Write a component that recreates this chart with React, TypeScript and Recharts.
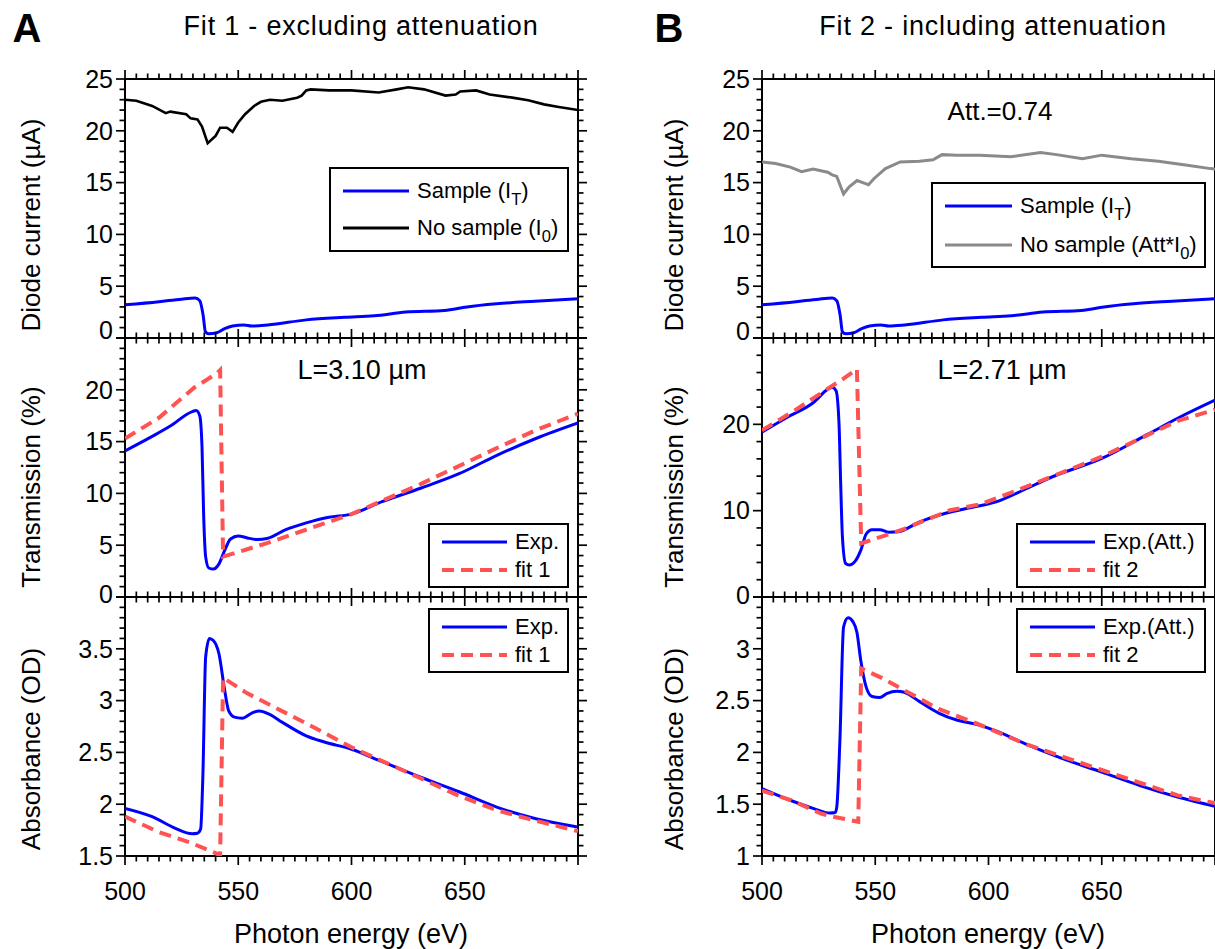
import React from "react";
import { LineChart, Line, XAxis, YAxis, ReferenceArea, Legend } from "recharts";

const FONT = '"Liberation Sans", Arial, Helvetica, sans-serif';
const BLUE = "#0000FF";
const RED = "#FF5252";
const GRAY = "#8A8A8A";

// [photon energy (eV), value]
const sampleIT: [number, number][] = [
  [500, 3.2], [515, 3.5], [525, 3.75], [531, 3.85], [533, 3.6], [534.5, 2.2],
  [535.5, 0.6], [537, 0.4], [540.5, 0.5], [544, 0.9], [547.5, 1.15], [552.5, 1.25],
  [556, 1.15], [563, 1.25], [580, 1.75], [597, 2.0], [610, 2.15], [624, 2.5],
  [641, 2.65], [651, 3.0], [664, 3.3], [681, 3.55], [700, 3.8],
];
const noSampleI0: [number, number][] = [
  [500, 23.0], [505, 22.9], [512, 22.4], [518, 21.7], [520, 21.85], [527, 21.6],
  [529, 21.2], [532, 21.1], [534, 20.4], [536.5, 18.8], [540, 19.5], [542, 20.3],
  [545, 20.3], [547.5, 19.9], [550, 20.8], [553, 21.6], [557, 22.4], [560, 22.8],
  [564, 23.0], [569.5, 22.9], [576, 23.2], [578, 23.4], [580, 23.9], [582, 24.0],
  [590, 23.9], [600, 23.9], [612, 23.7], [620, 24.0], [625, 24.2], [632, 24.0],
  [641.5, 23.4], [646, 23.5], [648, 23.8], [655, 23.9], [661, 23.5], [671, 23.2],
  [678, 22.95], [685, 22.55], [691.5, 22.3], [700, 22.0],
];
const noSampleAttI0: [number, number][] = [
  [500, 17.0], [506, 16.85], [512.5, 16.5], [517.5, 16.05], [522.5, 16.3], [529, 16.0],
  [531, 15.75], [533, 15.6], [536, 13.9], [538.5, 14.6], [542, 15.2], [544.5, 15.0],
  [547, 14.8], [549.5, 15.4], [554.5, 16.35], [561, 17.0], [569.5, 17.05], [575.5, 17.2],
  [579.5, 17.7], [586, 17.65], [596, 17.65], [610, 17.5], [623, 17.9], [630, 17.7],
  [641.5, 17.3], [650, 17.65], [663, 17.3], [675, 17.05], [687, 16.7], [698, 16.35],
  [700, 16.3],
];
const transExp1: [number, number][] = [
  [500, 14.1], [512, 15.5], [520, 16.5], [529.7, 17.9], [531.4, 18.0], [533, 17.5],
  [534, 14.5], [534.7, 8.1], [535.6, 3.9], [537, 2.8], [539, 2.7], [541.5, 3.2],
  [544, 4.5], [546.6, 5.6], [550, 5.9], [554, 5.7], [558.5, 5.55], [562.7, 5.65],
  [571, 6.5], [580, 7.15], [590, 7.7], [600, 8.0], [613.5, 9.2], [630.5, 10.5],
  [647.5, 11.9], [664.4, 13.7], [681.4, 15.3], [700, 16.8],
];
const transFit1: [number, number][] = [
  [500, 15.3], [515, 17.3], [530.5, 20.2], [540.7, 21.6], [542, 21.9], [543.3, 3.9],
  [562.7, 5.2], [588, 7.1], [600, 8.0], [630.5, 10.9], [664.4, 14.4], [681.4, 16.1],
  [700, 17.7],
];
const absExp1: [number, number][] = [
  [500, 1.96], [512, 1.88], [522, 1.77], [529.7, 1.715], [532, 1.72], [533.4, 1.76],
  [534.4, 2.29], [535.6, 3.42], [537.3, 3.6], [539, 3.58], [541.5, 3.45], [544, 3.1],
  [545.8, 2.9], [548.3, 2.84], [551.7, 2.83], [556, 2.88], [559.3, 2.9], [563.6, 2.87],
  [569.5, 2.79], [580, 2.66], [588, 2.6], [600, 2.53], [613.5, 2.41], [630.5, 2.26],
  [647.5, 2.12], [664.4, 1.97], [681.4, 1.86], [700, 1.78],
];
const absFit1: [number, number][] = [
  [500, 1.88], [515, 1.73], [528.8, 1.63], [539.8, 1.53], [542, 1.505], [543.3, 3.22],
  [554, 3.07], [580, 2.78], [600, 2.55], [630.5, 2.25], [647.5, 2.08], [664.4, 1.94],
  [681.4, 1.84], [700, 1.74],
];
const transExp2: [number, number][] = [
  [500, 19.1], [511, 20.8], [522.6, 22.5], [529.3, 24.1], [531, 24.3], [532.7, 23.9],
  [534, 20.1], [534.7, 13.5], [535.5, 7.0], [536.9, 3.9], [538.5, 3.7], [541, 4.1],
  [543.6, 5.4], [546, 7.3], [548.6, 7.8], [552, 7.8], [556, 7.5], [560, 7.55],
  [569.6, 8.7], [581, 9.7], [593, 10.4], [603, 11.0], [613, 12.1], [628, 13.9],
  [650, 16.05], [670, 18.8], [683.5, 20.7], [700, 22.8],
];
const transFit2: [number, number][] = [
  [500, 19.3], [512.6, 21.3], [526, 23.6], [536, 25.3], [541.9, 26.4], [543.8, 6.2],
  [552.8, 7.0], [562.9, 7.9], [583, 10.05], [596.4, 10.75], [613, 12.4], [650, 16.25],
  [683.5, 20.4], [700, 21.7],
];
const absExp2: [number, number][] = [
  [500, 1.65], [511, 1.55], [522.6, 1.46], [530, 1.415], [532.3, 1.42], [533, 1.47],
  [534.4, 2.12], [536, 3.21], [538, 3.3], [540.2, 3.26], [541.9, 3.16], [543.6, 2.89],
  [546, 2.63], [548.6, 2.54], [552, 2.53], [555.3, 2.57], [559.5, 2.59], [562.8, 2.58],
  [569.6, 2.49], [578, 2.38], [586.3, 2.31], [594.7, 2.27], [603, 2.21], [616.5, 2.08],
  [631.5, 1.95], [650, 1.81], [666.8, 1.68], [683.5, 1.57], [700, 1.48],
];
const absFit2: [number, number][] = [
  [500, 1.63], [512.6, 1.54], [526, 1.41], [531, 1.38], [536, 1.36], [540.2, 1.34],
  [542.5, 1.33], [543.8, 2.81], [552.8, 2.72], [562.8, 2.6], [578, 2.42], [594.7, 2.28],
  [616.5, 2.08], [650, 1.83], [683.5, 1.585], [700, 1.51],
];

const xTickLabels = [500, 550, 600, 650];
const diodeTickLabels = [0, 5, 10, 15, 20, 25];
const trans1TickLabels = [0, 5, 10, 15, 20];
const abs1TickLabels = [1.5, 2, 2.5, 3, 3.5];
const trans2TickLabels = [0, 10, 20];
const abs2TickLabels = [1, 1.5, 2, 2.5, 3];

const range = (a: number, b: number, step: number) => {
  const out: number[] = [];
  const n = Math.round((b - a) / step);
  for (let i = 0; i <= n; i++) out.push(Math.round((a + i * step) * 1000) / 1000);
  return out;
};
const isMultiple = (v: number, step: number) =>
  Math.abs(v / step - Math.round(v / step)) < 1e-6;

type Series = {
  name: string;
  points: [number, number][];
  color: string;
  width: number;
  dash?: string;
  curve: "linear" | "monotone";
};
type LegendCfg = { x: number; y: number; w: number; h: number; rowH: number; lineW: number };
type PanelCfg = {
  left: number;
  top: number;
  yDomain: [number, number];
  yMinor: number;
  yMajor: number;
  yLabels: number[];
  zeroShift: number;
  xLabels: boolean;
  series: Series[];
  legend: LegendCfg;
  padR: number;
};

const PLOT_W = 453;
const PLOT_H = 259;
const PAD_L = 80;
const PAD_T = 20;
const TICK_FONT = 25;
const MAJOR = 9;
const MINOR = 5.5;

const formatName = (s: string) => {
  const m = s.match(/^(.*I)_(\w)(.*)$/);
  if (!m) return s;
  return (
    <>
      {m[1]}
      <sub style={{ fontSize: "0.75em", verticalAlign: "-0.4em", lineHeight: 0 }}>{m[2]}</sub>
      {m[3]}
    </>
  );
};

const Panel = ({ cfg }: { cfg: PanelCfg }) => {
  const padB = cfg.xLabels ? 62 : 20;
  const width = PAD_L + PLOT_W + cfg.padR;
  const height = PAD_T + PLOT_H + padB;
  const plotTop = PAD_T;
  const plotBottom = PAD_T + PLOT_H;
  const plotLeft = PAD_L;
  const plotRight = PAD_L + PLOT_W;
  const xTicks = range(500, 700, 5);
  const yTicks = range(cfg.yDomain[0], cfg.yDomain[1], cfg.yMinor);

  // axes are 1px thick so that recharts draws them; ticks drawn by hand on all four sides
  const XTick = (p: any) => {
    const x = p.x;
    const v = p.payload.value;
    const len = isMultiple(v, 50) ? MAJOR : MINOR;
    return (
      <g>
        <line x1={x} y1={plotBottom} x2={x} y2={plotBottom + len} stroke="#000" strokeWidth={1.7} />
        <line x1={x} y1={plotTop} x2={x} y2={plotTop - len} stroke="#000" strokeWidth={1.7} />
        {cfg.xLabels && xTickLabels.includes(v) && (
          <text x={x} y={plotBottom + 35} dy="0.35em" textAnchor="middle" fontSize={TICK_FONT} fontFamily={FONT} fill="#000">
            {v}
          </text>
        )}
      </g>
    );
  };

  const YTick = (p: any) => {
    const y = p.y;
    const v = p.payload.value;
    const len = isMultiple(v, cfg.yMajor) ? MAJOR : MINOR;
    const shift = Math.abs(v - cfg.yDomain[0]) < 1e-6 ? cfg.zeroShift : 0;
    return (
      <g>
        <line x1={plotLeft - len} y1={y} x2={plotLeft} y2={y} stroke="#000" strokeWidth={1.7} />
        <line x1={plotRight} y1={y} x2={plotRight + len} y2={y} stroke="#000" strokeWidth={1.7} />
        {cfg.yLabels.some((l) => Math.abs(l - v) < 1e-6) && (
          <text x={plotLeft - 12} y={y + shift} dy="0.35em" textAnchor="end" fontSize={TICK_FONT} fontFamily={FONT} fill="#000">
            {v}
          </text>
        )}
      </g>
    );
  };

  const lg = cfg.legend;
  const chartLeft = cfg.left - PAD_L;
  const chartTop = cfg.top - PAD_T;

  const renderLegend = (props: any) => {
    const items = [...(props.payload || [])].sort(
      (a: any, b: any) =>
        cfg.series.findIndex((s) => s.name === a.value) - cfg.series.findIndex((s) => s.name === b.value)
    );
    return (
      <div
        style={{
          width: lg.w,
          height: lg.h,
          boxSizing: "border-box",
          border: "2px solid #000",
          background: "#fff",
          display: "flex",
          flexDirection: "column",
          justifyContent: "center",
          fontFamily: FONT,
          fontSize: 22,
          color: "#000",
        }}
      >
        {items.map((it: any) => {
          const s = cfg.series.find((q) => q.name === it.value);
          return (
            <div key={it.value} style={{ height: lg.rowH, display: "flex", alignItems: "center", paddingLeft: 12 }}>
              <svg width={lg.lineW} height={8} style={{ flex: "none" }}>
                <line
                  x1={0}
                  y1={4}
                  x2={lg.lineW}
                  y2={4}
                  stroke={it.color}
                  strokeWidth={s?.dash ? 4 : 3.2}
                  strokeDasharray={s?.dash}
                />
              </svg>
              <span style={{ marginLeft: 8, lineHeight: 1, whiteSpace: "nowrap" }}>{formatName(String(it.value))}</span>
            </div>
          );
        })}
      </div>
    );
  };

  return (
    <div style={{ position: "absolute", left: chartLeft, top: chartTop }}>
      <LineChart width={width} height={height} margin={{ top: PAD_T, right: cfg.padR, bottom: padB - 1, left: PAD_L - 1 }}>
        <XAxis
          dataKey="x"
          type="number"
          domain={[500, 700]}
          allowDataOverflow
          ticks={xTicks}
          interval={0}
          height={1}
          tickSize={0}
          tickMargin={0}
          tickLine={false}
          axisLine={false}
          tick={XTick}
        />
        <YAxis
          type="number"
          domain={cfg.yDomain}
          allowDataOverflow
          ticks={yTicks}
          interval={0}
          width={1}
          tickSize={0}
          tickMargin={0}
          tickLine={false}
          axisLine={false}
          tick={YTick}
        />
        {cfg.series.map((s) => (
          <Line
            key={s.name}
            name={s.name}
            data={s.points.map(([x, y]) => ({ x, y }))}
            dataKey="y"
            type={s.curve}
            stroke={s.color}
            strokeWidth={s.width}
            strokeDasharray={s.dash}
            dot={false}
            activeDot={false}
            isAnimationActive={false}
          />
        ))}
        <ReferenceArea
          x1={500}
          x2={700}
          y1={cfg.yDomain[0]}
          y2={cfg.yDomain[1]}
          fill="none"
          fillOpacity={0}
          stroke="#000"
          strokeWidth={2}
          ifOverflow="visible"
        />
        <Legend
          layout="horizontal"
          verticalAlign="middle"
          align="center"
          wrapperStyle={{ left: lg.x - chartLeft, top: lg.y - chartTop, width: lg.w, height: lg.h }}
          content={renderLegend}
        />
      </LineChart>
    </div>
  );
};

const COL_A = 125;
const COL_B = 762;
const ROWS = [79, 338, 597];
const DASH = "12 7";

const panels: PanelCfg[] = [
  {
    left: COL_A, top: ROWS[0], yDomain: [0, 25], yMinor: 1, yMajor: 5, yLabels: diodeTickLabels,
    zeroShift: -8, xLabels: false, padR: 30,
    series: [
      { name: "Sample (I_T)", points: sampleIT, color: BLUE, width: 3, curve: "monotone" },
      { name: "No sample (I_0)", points: noSampleI0, color: "#000", width: 2.6, curve: "linear" },
    ],
    legend: { x: 329, y: 167, w: 240, h: 85, rowH: 37, lineW: 66 },
  },
  {
    left: COL_A, top: ROWS[1], yDomain: [0, 25], yMinor: 1, yMajor: 5, yLabels: trans1TickLabels,
    zeroShift: -3, xLabels: false, padR: 30,
    series: [
      { name: "Exp.", points: transExp1, color: BLUE, width: 3, curve: "monotone" },
      { name: "fit 1", points: transFit1, color: RED, width: 4, dash: DASH, curve: "linear" },
    ],
    legend: { x: 428, y: 523, w: 141, h: 65, rowH: 28, lineW: 65 },
  },
  {
    left: COL_A, top: ROWS[2], yDomain: [1.5, 4], yMinor: 0.1, yMajor: 0.5, yLabels: abs1TickLabels,
    zeroShift: 0, xLabels: true, padR: 30,
    series: [
      { name: "Exp.", points: absExp1, color: BLUE, width: 3, curve: "monotone" },
      { name: "fit 1", points: absFit1, color: RED, width: 4, dash: DASH, curve: "linear" },
    ],
    legend: { x: 428, y: 608, w: 141, h: 65, rowH: 28, lineW: 65 },
  },
  {
    left: COL_B, top: ROWS[0], yDomain: [0, 25], yMinor: 1, yMajor: 5, yLabels: diodeTickLabels,
    zeroShift: -7, xLabels: false, padR: 0,
    series: [
      { name: "Sample (I_T)", points: sampleIT, color: BLUE, width: 3, curve: "monotone" },
      { name: "No sample (Att*I_0)", points: noSampleAttI0, color: GRAY, width: 3, curve: "linear" },
    ],
    legend: { x: 931, y: 182, w: 275, h: 86, rowH: 39, lineW: 67 },
  },
  {
    left: COL_B, top: ROWS[1], yDomain: [0, 30], yMinor: 2, yMajor: 10, yLabels: trans2TickLabels,
    zeroShift: -2, xLabels: false, padR: 0,
    series: [
      { name: "Exp.(Att.)", points: transExp2, color: BLUE, width: 3, curve: "monotone" },
      { name: "fit 2", points: transFit2, color: RED, width: 4, dash: DASH, curve: "linear" },
    ],
    legend: { x: 1016, y: 523, w: 190, h: 65, rowH: 28, lineW: 65 },
  },
  {
    left: COL_B, top: ROWS[2], yDomain: [1, 3.5], yMinor: 0.1, yMajor: 0.5, yLabels: abs2TickLabels,
    zeroShift: 0, xLabels: true, padR: 0,
    series: [
      { name: "Exp.(Att.)", points: absExp2, color: BLUE, width: 3, curve: "monotone" },
      { name: "fit 2", points: absFit2, color: RED, width: 4, dash: DASH, curve: "linear" },
    ],
    legend: { x: 1016, y: 608, w: 190, h: 65, rowH: 28, lineW: 65 },
  },
];

const yTitles = [
  { text: "Diode current (µA)", cy: 225 },
  { text: "Transmission (%)", cy: 487 },
  { text: "Absorbance (OD)", cy: 749 },
];

const Text = ({ x, y, size, children, bold, rotate, spacing }: any) => (
  <div
    style={{
      position: "absolute",
      left: x,
      top: y,
      transform: `translate(-50%, -50%)${rotate ? " rotate(-90deg)" : ""}`,
      fontFamily: FONT,
      fontSize: size,
      fontWeight: bold ? 700 : 400,
      letterSpacing: spacing || 0,
      whiteSpace: "nowrap",
      color: "#000",
      lineHeight: 1,
    }}
  >
    {children}
  </div>
);

export default function App() {
  return (
    <div style={{ position: "absolute", left: 0, top: 0, width: 1215, height: 949, overflow: "hidden", background: "#fff" }}>
      <Text x={27} y={28} size={40} bold>A</Text>
      <Text x={361} y={26} size={27} spacing={0.8}>Fit 1 - excluding attenuation</Text>
      <Text x={669} y={28} size={40} bold>B</Text>
      <Text x={993} y={26} size={27} spacing={0.8}>Fit 2 - including attenuation</Text>

      {panels.map((p, i) => (
        <Panel key={i} cfg={p} />
      ))}

      {yTitles.map((t) => (
        <React.Fragment key={t.text}>
          <Text x={31} y={t.cy} size={26} rotate>{t.text}</Text>
          <Text x={674} y={t.cy} size={26} rotate>{t.text}</Text>
        </React.Fragment>
      ))}

      <Text x={362} y={370} size={27}>L=3.10 µm</Text>
      <Text x={1002} y={370} size={27}>L=2.71 µm</Text>
      <Text x={1000} y={111} size={26}>Att.=0.74</Text>

      <Text x={351} y={934} size={27}>Photon energy (eV)</Text>
      <Text x={988} y={934} size={27}>Photon energy (eV)</Text>
    </div>
  );
}
